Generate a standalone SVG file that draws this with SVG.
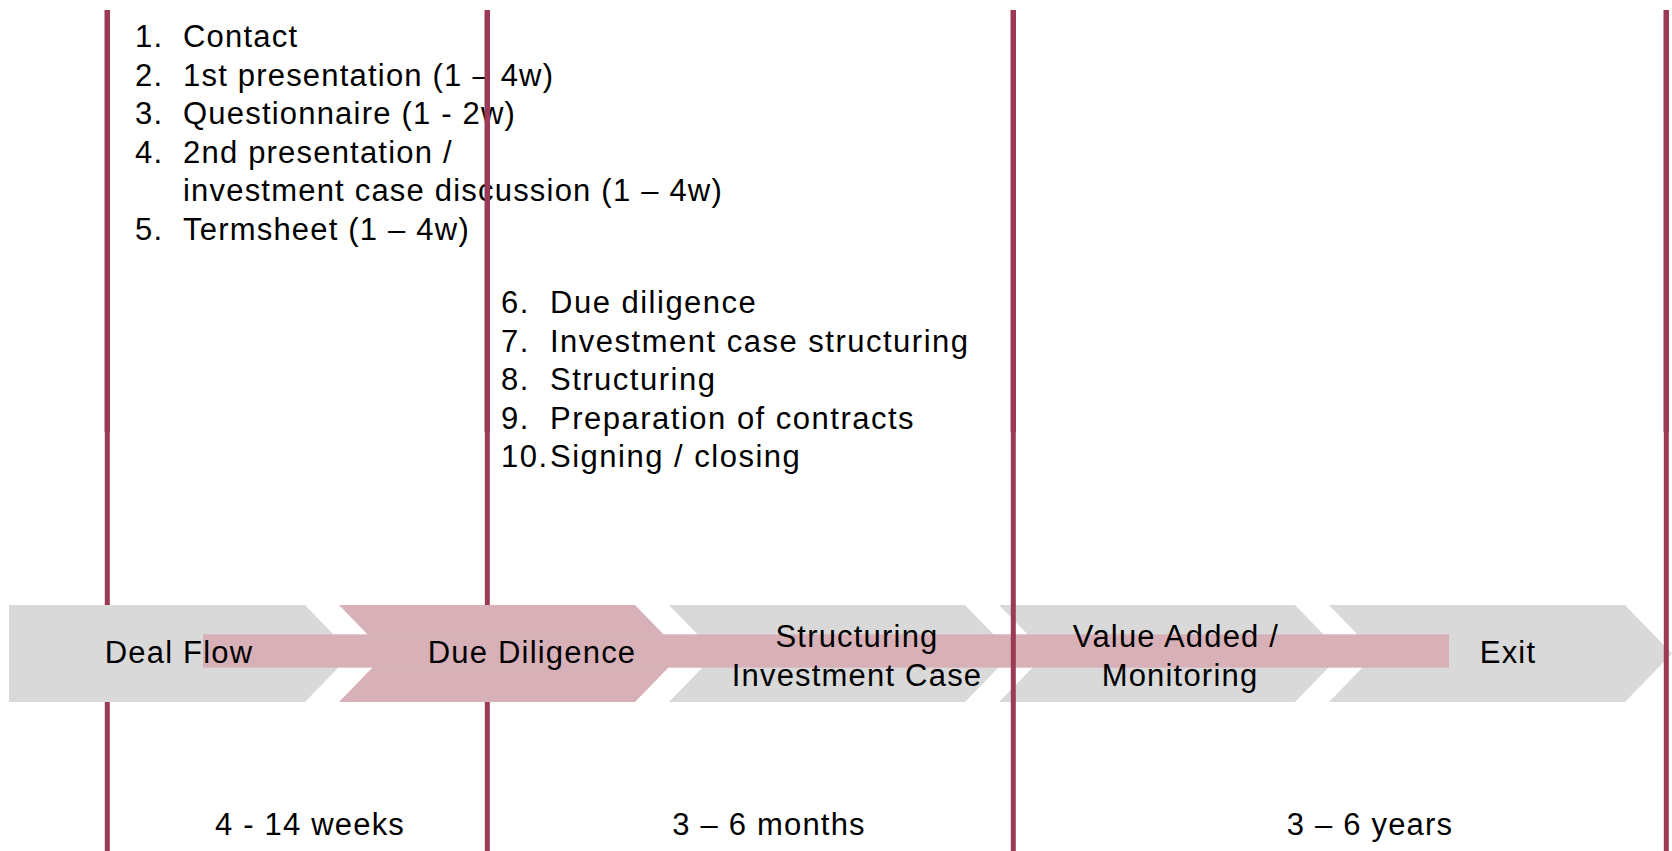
<svg xmlns="http://www.w3.org/2000/svg" width="1672" height="851" viewBox="0 0 1672 851">
  <style>
    text { font-family: "Liberation Sans", Arial, sans-serif; font-size: 31px; letter-spacing: 1.2px; fill: #000; }
    #list-duediligence text { letter-spacing: 1.5px; }
    .mid { text-anchor: middle; }
    .div { fill: #9B3A55; }
    .chev { fill: #D9D9D9; }
    .chev-on { fill: #D8B1B8; }
    .bar { fill: #D8B1B8; }
  </style>
  <rect x="0" y="0" width="1672" height="851" fill="#FFFFFF"/>

  <g id="list-dealflow">
    <text x="135" y="47">1.</text><text x="183" y="47">Contact</text>
    <text x="135" y="85.5">2.</text><text x="183" y="85.5">1st presentation (1 – 4w)</text>
    <text x="135" y="124">3.</text><text x="183" y="124">Questionnaire (1 - 2w)</text>
    <text x="135" y="162.5">4.</text><text x="183" y="162.5">2nd presentation /</text>
    <text x="183" y="201">investment case discussion (1 – 4w)</text>
    <text x="135" y="239.5">5.</text><text x="183" y="239.5">Termsheet (1 – 4w)</text>
  </g>

  <g id="list-duediligence">
    <text x="501" y="313">6.</text><text x="550" y="313">Due diligence</text>
    <text x="501" y="351.5">7.</text><text x="550" y="351.5">Investment case structuring</text>
    <text x="501" y="390">8.</text><text x="550" y="390">Structuring</text>
    <text x="501" y="428.5">9.</text><text x="550" y="428.5">Preparation of contracts</text>
    <text x="501" y="467">10.</text><text x="550" y="467">Signing / closing</text>
  </g>

  <g id="dividers-back">
    <rect class="div" x="104.5" y="10" width="5.5" height="422"/>
    <rect class="div" x="104.8" y="432" width="5" height="419"/>
    <rect class="div" x="484.5" y="10" width="5.5" height="422"/>
    <rect class="div" x="484.8" y="432" width="5" height="419"/>
  </g>

  <g id="node-dealflow">
    <polygon class="chev" points="9,605 305,605 352,653.5 305,702 9,702"/>
  </g>
  <g id="node-duediligence">
    <polygon class="chev-on" points="339,605 635,605 682,653.5 635,702 339,702 386,653.5"/>
  </g>
  <g id="node-structuring">
    <polygon class="chev" points="669,605 965,605 1012,653.5 965,702 669,702 716,653.5"/>
  </g>
  <g id="node-valueadded">
    <polygon class="chev" points="999,605 1295,605 1342,653.5 1295,702 999,702 1046,653.5"/>
  </g>
  <g id="node-exit">
    <polygon class="chev" points="1329,605 1625,605 1672,653.5 1625,702 1329,702 1376,653.5"/>
  </g>

  <g id="progress-bar">
    <rect class="bar" x="203" y="634.3" width="1246" height="33.4"/>
  </g>

  <g id="dividers-front">
    <rect class="div" x="1010.5" y="10" width="5.5" height="422"/>
    <rect class="div" x="1010.8" y="432" width="5" height="419"/>
    <rect class="div" x="1663.5" y="10" width="5.5" height="422"/>
    <rect class="div" x="1663.8" y="432" width="5" height="419"/>
  </g>

  <g id="labels">
    <text class="mid" x="179" y="663">Deal Flow</text>
    <text class="mid" x="532" y="663">Due Diligence</text>
    <text class="mid" x="857" y="647">Structuring</text>
    <text class="mid" x="857" y="685.5">Investment Case</text>
    <text class="mid" x="1176" y="647">Value Added /</text>
    <text class="mid" x="1180" y="685.5">Monitoring</text>
    <text class="mid" x="1508" y="663">Exit</text>
  </g>

  <g id="durations">
    <text class="mid" x="310" y="835">4 - 14 weeks</text>
    <text class="mid" x="769" y="835">3 – 6 months</text>
    <text class="mid" x="1370" y="835">3 – 6 years</text>
  </g>
</svg>
